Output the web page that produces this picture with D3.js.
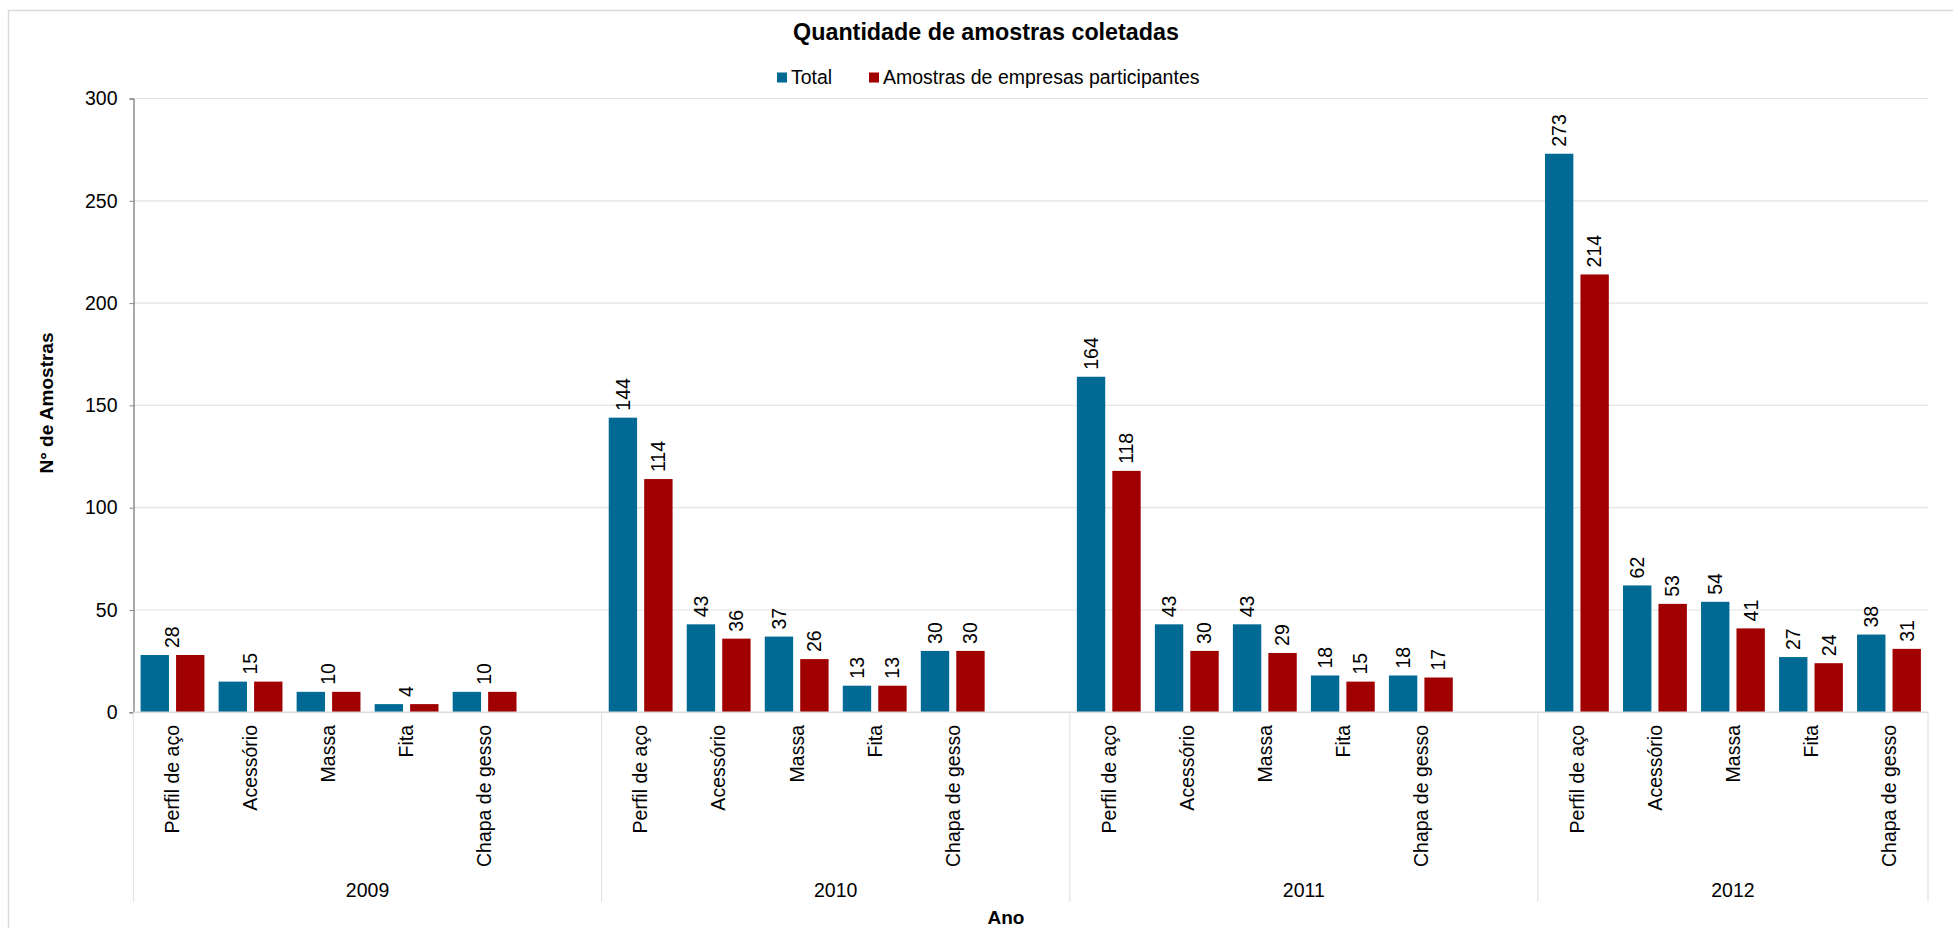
<!DOCTYPE html>
<html>
<head>
<meta charset="utf-8">
<script src="https://cdn.jsdelivr.net/npm/d3@7"></script>
<style>
  html, body { margin: 0; padding: 0; background: #fff; }
  svg { display: block; font-family: "Liberation Sans", Arial, sans-serif; }
</style>
</head>
<body>
<svg id="chart" width="1953" height="928"></svg>
<script>
// ---- data ----
const years = ["2009", "2010", "2011", "2012"];
const categories = ["Perfil de aço", "Acessório", "Massa", "Fita", "Chapa de gesso"];
const seriesNames = ["Total", "Amostras de empresas participantes"];
const total2009 = [28, 15, 10, 4, 10];
const total2010 = [144, 43, 37, 13, 30];
const total2011 = [164, 43, 43, 18, 18];
const total2012 = [273, 62, 54, 27, 38];
const part2009 = [28, 15, 10, 4, 10];
const part2010 = [114, 36, 26, 13, 30];
const part2011 = [118, 30, 29, 15, 17];
const part2012 = [214, 53, 41, 24, 31];
const yTicks = [0, 50, 100, 150, 200, 250, 300];
const singleLabelYears = ["2009"]; // one centred label per category in these years

const totals = [total2009, total2010, total2011, total2012];
const parts = [part2009, part2010, part2011, part2012];
const colors = ["#006994", "#A10000"];

// build slots: every year has 5 categories + a blank slot, except the last
const slots = [];
years.forEach((yr, gi) => {
  categories.forEach((c, ci) => {
    slots.push({ id: yr + "|" + c, year: yr, cat: c, vals: [totals[gi][ci], parts[gi][ci]] });
  });
  if (gi < years.length - 1) slots.push({ id: yr + "|blank", year: yr, cat: null, vals: null });
});

const svg = d3.select("#chart");
const left = 133.5, right = 1928, y0 = 712.3, yTop = 98.5;

// frame
svg.append("path").attr("d", `M8.5,${928} V10.5 H1953`)
  .attr("fill", "none").attr("stroke", "#d9d9d9").attr("stroke-width", 1.5);

const x = d3.scaleBand().domain(slots.map(d => d.id)).range([left, right]).padding(0);
const xi = d3.scaleBand().domain([0, 1]).range([0, x.bandwidth()]).paddingInner(0.2).paddingOuter(0.2);
const y = d3.scaleLinear().domain([0, 300]).range([y0, yTop]);

// gridlines
svg.append("g").selectAll("line").data(yTicks.filter(t => t > 0)).join("line")
  .attr("x1", left).attr("x2", right).attr("y1", d => y(d)).attr("y2", d => y(d))
  .attr("stroke", "#e3e3e3").attr("stroke-width", 1.2);

// y axis
const yAxis = svg.append("g").attr("transform", `translate(${left},0)`)
  .call(d3.axisLeft(y).tickValues(yTicks).tickSize(4).tickPadding(12));
yAxis.select(".domain").attr("stroke", "#555").attr("stroke-width", 1);
yAxis.selectAll(".tick line").attr("stroke", "#888");
yAxis.selectAll(".tick text").attr("font-size", 19.5).attr("fill", "#000")
  .attr("font-family", "Liberation Sans, Arial, sans-serif");

// bars
const slotG = svg.append("g").selectAll("g").data(slots.filter(s => s.vals)).join("g")
  .attr("transform", d => `translate(${x(d.id)},0)`);
slotG.selectAll("rect").data(d => d.vals).join("rect")
  .attr("x", (v, i) => xi(i)).attr("width", xi.bandwidth())
  .attr("y", v => y(v)).attr("height", v => y0 - y(v))
  .attr("fill", (v, i) => colors[i]);

// data labels
slotG.each(function(d) {
  const g = d3.select(this);
  const labels = singleLabelYears.includes(d.year)
    ? [{ v: d.vals[0], cx: x.bandwidth() / 2, top: y(d3.max(d.vals)) }]
    : d.vals.map((v, i) => ({ v, cx: xi(i) + xi.bandwidth() / 2, top: y(v) }));
  g.selectAll("text.lbl").data(labels).join("text").attr("class", "lbl")
    .attr("transform", l => `translate(${l.cx},${l.top - 7}) rotate(-90)`)
    .attr("text-anchor", "start").attr("dy", "0.35em")
    .attr("font-size", 19.5).attr("fill", "#000").text(l => l.v);
});

// x axis line (light)
svg.append("line").attr("x1", left).attr("x2", right).attr("y1", y0).attr("y2", y0)
  .attr("stroke", "#dcdcdc").attr("stroke-width", 1.5);

// category labels
svg.append("g").selectAll("text").data(slots.filter(s => s.cat)).join("text")
  .attr("transform", d => `translate(${x(d.id) + x.bandwidth() / 2},725) rotate(-90)`)
  .attr("text-anchor", "end").attr("dy", "0.35em")
  .attr("font-size", 19.5).attr("fill", "#000").text(d => d.cat);

// group separators and year labels
const groups = years.map(yr => {
  const ss = slots.filter(s => s.year === yr);
  return { year: yr, x0: x(ss[0].id), x1: x(ss[ss.length - 1].id) + x.bandwidth() };
});
const seps = [groups[0].x0].concat(groups.map(g => g.x1));
svg.append("g").selectAll("line").data(seps).join("line")
  .attr("x1", d => d).attr("x2", d => d).attr("y1", y0).attr("y2", 902)
  .attr("stroke", "#e3e3e3").attr("stroke-width", 1.2);
svg.append("g").selectAll("text").data(groups).join("text")
  .attr("x", d => (d.x0 + d.x1) / 2).attr("y", 897)
  .attr("text-anchor", "middle").attr("font-size", 19.5).attr("fill", "#000").text(d => d.year);

// axis titles
svg.append("text").attr("x", 1006).attr("y", 924).attr("text-anchor", "middle")
  .attr("font-size", 19).attr("font-weight", "bold").text("Ano");
svg.append("text").attr("transform", "translate(53,403) rotate(-90)")
  .attr("text-anchor", "middle").attr("font-size", 19).attr("font-weight", "bold").text("N° de Amostras");

// title
svg.append("text").attr("x", 986).attr("y", 40).attr("text-anchor", "middle")
  .attr("font-size", 23.3).attr("font-weight", "bold").text("Quantidade de amostras coletadas");

// legend
const legendItems = [{ name: seriesNames[0], sx: 777, tx: 791 }, { name: seriesNames[1], sx: 869, tx: 883 }];
const lg = svg.append("g").selectAll("g").data(legendItems).join("g");
lg.append("rect").attr("x", d => d.sx).attr("y", 72.5).attr("width", 10).attr("height", 10)
  .attr("fill", (d, i) => colors[i]);
lg.append("text").attr("x", d => d.tx).attr("y", 83.5).attr("font-size", 19.5).text(d => d.name);
</script>
</body>
</html>
